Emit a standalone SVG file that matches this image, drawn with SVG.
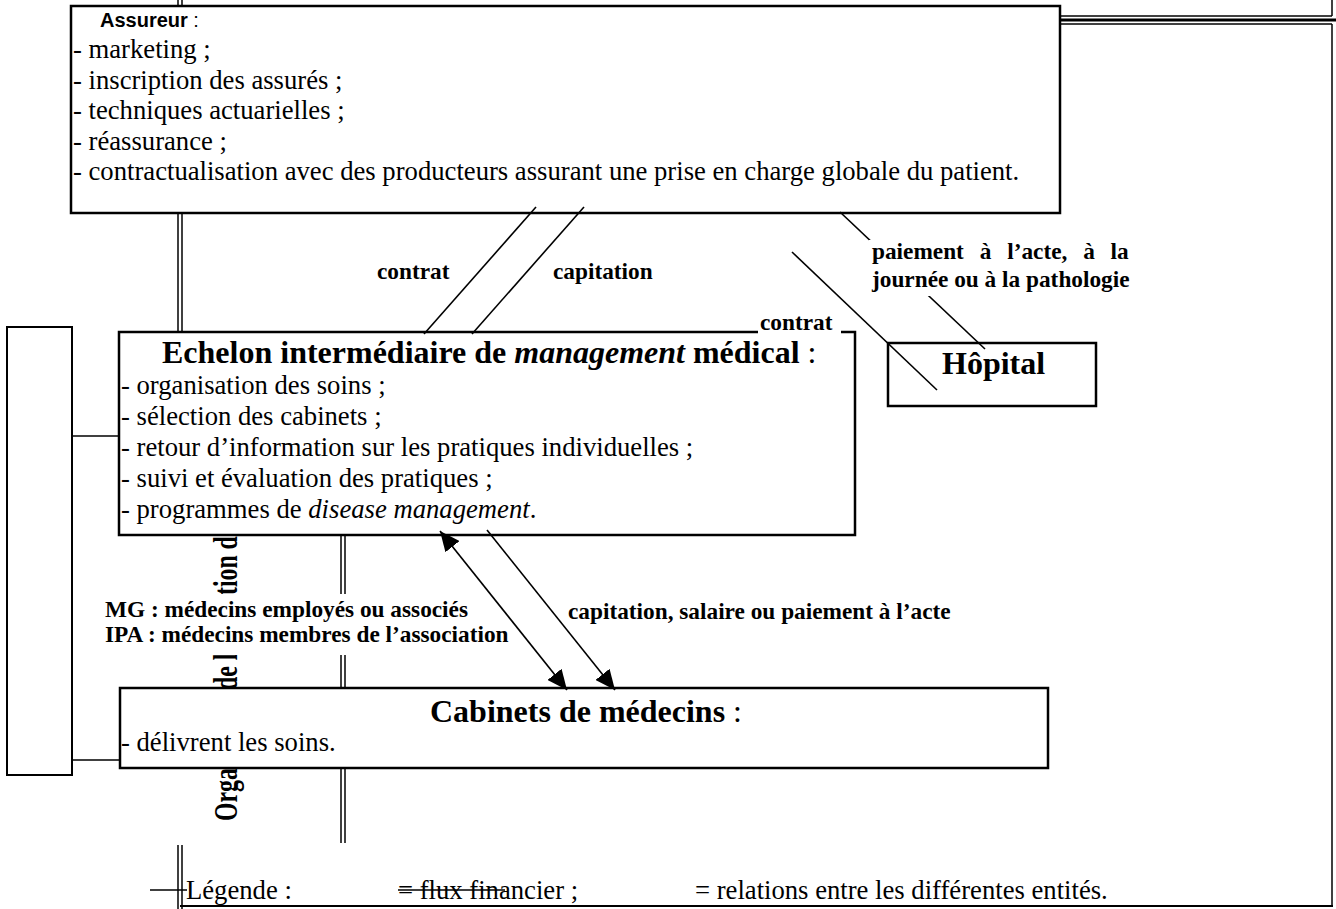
<svg xmlns="http://www.w3.org/2000/svg" width="1336" height="909" viewBox="0 0 1336 909">
<defs>
<marker id="ah" viewBox="0 0 20 18" refX="20" refY="9" markerWidth="20" markerHeight="18" markerUnits="userSpaceOnUse" orient="auto-start-reverse">
<path d="M0,0 L20,9 L0,18 z" fill="#000"/>
</marker>
</defs>
<style>
.box{fill:#fff;stroke:#000;stroke-width:2.5}
.thin{fill:none;stroke:#000;stroke-width:1.5}
.ln{fill:none;stroke:#000;stroke-width:1.6}
.bg{fill:#fff;stroke:none}
.body{font-family:"Liberation Serif","Times New Roman",serif;font-size:26.67px;fill:#000}
.lbl{font-family:"Liberation Serif","Times New Roman",serif;font-size:23.3px;font-weight:bold;fill:#000}
.ttl{font-family:"Liberation Serif","Times New Roman",serif;font-size:32px;font-weight:bold;fill:#000}
.rot{font-family:"Liberation Serif","Times New Roman",serif;font-size:34px;font-weight:bold;fill:#000}
.ar{font-family:"Liberation Sans",Arial,sans-serif;font-size:20px;fill:#000}
</style>
<rect width="1336" height="909" fill="#fff"/>

<g id="frame">
<line class="thin" x1="178" y1="0" x2="178" y2="332"/>
<line class="thin" x1="182" y1="0" x2="182" y2="332"/>
<line class="thin" x1="1060" y1="16" x2="1332" y2="16"/>
<line class="thin" x1="1332" y1="0" x2="1332" y2="16"/>
<line fill="none" stroke="#000" stroke-width="3" x1="1060" y1="20" x2="1336" y2="20"/>
<line class="thin" x1="1060" y1="24" x2="1332" y2="24"/>
<line class="thin" x1="1332" y1="24" x2="1332" y2="906"/>
<line fill="none" stroke="#000" stroke-width="2" x1="180" y1="906" x2="1333" y2="906"/>
<line class="thin" x1="178" y1="845" x2="178" y2="909"/>
<line class="thin" x1="182" y1="845" x2="182" y2="909"/>
<line class="thin" x1="341" y1="535" x2="341" y2="843"/>
<line class="thin" x1="345" y1="535" x2="345" y2="843"/>
</g>

<g id="vertical-title">
<text class="rot" transform="translate(237,821) rotate(-90) scale(0.7,1)">Orga</text>
<text class="rot" transform="translate(237,690) rotate(-90) scale(0.7,1)">de l</text>
<text class="rot" transform="translate(237,595) rotate(-90) scale(0.7,1)">tion de</text>
</g>

<g id="assureur">
<rect class="box" x="71" y="6" width="989" height="207"/>
<text class="ar" x="100" y="27"><tspan font-weight="bold">Assureur</tspan> :</text>
<text class="body" x="73" y="58">- marketing ;</text>
<text class="body" x="73" y="88.5">- inscription des assurés ;</text>
<text class="body" x="73" y="119">- techniques actuarielles ;</text>
<text class="body" x="73" y="149.5">- réassurance ;</text>
<text class="body" x="73" y="180">- contractualisation avec des producteurs assurant une prise en charge globale du patient.</text>
</g>

<g id="echelon">
<rect class="box" x="119" y="332" width="736" height="203"/>
<text class="ttl" x="162" y="363">Echelon intermédiaire de <tspan font-style="italic">management</tspan> médical<tspan font-weight="normal"> :</tspan></text>
<text class="body" x="121" y="394">- organisation des soins ;</text>
<text class="body" x="121" y="425">- sélection des cabinets ;</text>
<text class="body" x="121" y="456">- retour d’information sur les pratiques individuelles ;</text>
<text class="body" x="121" y="487">- suivi et évaluation des pratiques ;</text>
<text class="body" x="121" y="518">- programmes de <tspan font-style="italic">disease management</tspan>.</text>
</g>

<g id="hopital">
<rect class="box" x="888" y="343" width="208" height="63"/>
<text class="ttl" x="942" y="374">Hôpital</text>
</g>

<g id="cabinets">
<rect class="box" x="120" y="688" width="928" height="80"/>
<text class="ttl" x="430" y="722">Cabinets de médecins<tspan font-weight="normal"> :</tspan></text>
<text class="body" x="121" y="751">- délivrent les soins.</text>
</g>

<g id="left-box">
<rect class="box" style="stroke-width:2" x="7" y="327" width="65" height="448"/>
</g>

<g id="connectors">
<line class="ln" x1="72" y1="436" x2="119" y2="436"/>
<line class="ln" x1="72" y1="760" x2="120" y2="760"/>
<line class="ln" x1="536" y1="207" x2="424" y2="334"/>
<line class="ln" x1="584" y1="207" x2="472" y2="334"/>
<line class="ln" x1="840" y1="212" x2="985" y2="349"/>
<line class="ln" x1="792" y1="252" x2="937" y2="390"/>
<line class="ln" x1="440" y1="531" x2="567" y2="690" marker-start="url(#ah)" marker-end="url(#ah)"/>
<line class="ln" x1="487" y1="530" x2="615" y2="690" marker-end="url(#ah)"/>
</g>

<g id="labels">
<text class="lbl" x="377" y="279">contrat</text>
<text class="lbl" x="553" y="279">capitation</text>
<rect class="bg" x="869" y="240" width="274" height="56"/>
<text class="lbl" x="872" y="259" word-spacing="10">paiement à l’acte, à la</text>
<text class="lbl" x="872" y="287">journée ou à la pathologie</text>
<rect class="bg" x="758" y="310" width="83" height="24"/>
<text class="lbl" x="760" y="330">contrat</text>
<rect class="bg" x="205" y="594" width="155" height="61"/>
<text class="lbl" x="105" y="617">MG : médecins employés ou associés</text>
<text class="lbl" x="105" y="642">IPA : médecins membres de l’association</text>
<text class="lbl" x="568" y="619">capitation, salaire ou paiement à l’acte</text>
</g>

<g id="legend">
<line class="ln" x1="150" y1="890" x2="187" y2="890"/>
<text class="body" x="186" y="899">Légende :</text>
<text class="body" x="398" y="899">= flux financier ;</text>
<line class="ln" x1="398" y1="890" x2="505" y2="890"/>
<text class="body" x="695" y="899">= relations entre les différentes entités.</text>
</g>
</svg>
